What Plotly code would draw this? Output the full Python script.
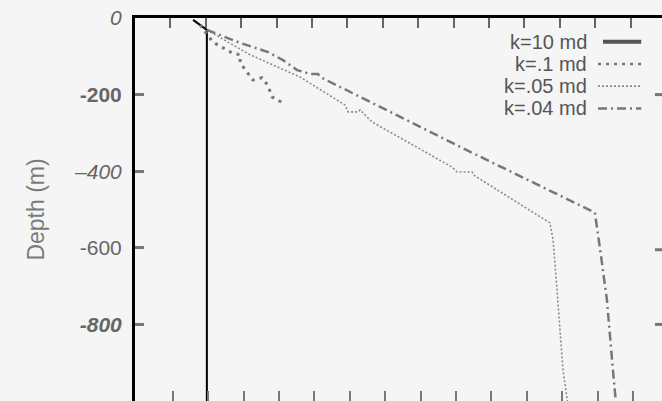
import plotly.graph_objects as go

# ---- data (x in tick units along the top axis, depth in metres) ----
k10_x = [1.64, 2.03, 2.03]
k10_y = [-5, -31, -1010]

k01_x = [1.84, 2.20, 2.74, 2.97, 2.97, 3.33, 3.59, 3.76, 3.87, 4.18]
k01_y = [-18, -63, -91, -96, -117, -162, -156, -177, -206, -222]

k005_x = [2.03, 3.25, 4.66, 5.93, 6.02, 6.30, 6.36, 6.69, 8.95, 9.10, 9.52, 9.60,
          11.72, 11.81, 11.92, 12.09, 12.23]
k005_y = [-31, -96, -154, -227, -245, -245, -240, -271, -389, -402, -402, -412,
          -535, -579, -709, -918, -1010]

k004_x = [2.03, 2.97, 3.76, 4.18, 4.58, 4.94, 5.17, 5.23, 9.46, 12.99, 13.14, 13.33,
          13.50, 13.59]
k004_y = [-31, -65, -89, -110, -136, -146, -146, -154, -349, -508, -605, -735,
          -918, -1010]

series_names = ["k=10 md", "k=.1 md", "k=.05 md", "k=.04 md"]
ytick_vals = [0, -200, -400, -600, -800]
ytick_text = ["<i>0</i>", "<b>-200</b>", "<i>\u2013400</i>", "-600", "<b><i>-800</i></b>"]
xtick_vals = list(range(1, 15))

BG = "#f5f5f5"
fig = go.Figure()

fig.add_trace(go.Scatter(x=k10_x, y=k10_y, mode="lines", name=series_names[0],
                         line=dict(color="black", width=2)))
fig.add_trace(go.Scatter(x=k01_x, y=k01_y, mode="lines", name=series_names[1],
                         line=dict(color="#777777", width=3, dash="3px,5px")))
fig.add_trace(go.Scatter(x=k005_x, y=k005_y, mode="lines", name=series_names[2],
                         line=dict(color="#8a8a8a", width=1.6, dash="2px,2px")))
fig.add_trace(go.Scatter(x=k004_x, y=k004_y, mode="lines", name=series_names[3],
                         line=dict(color="#777777", width=2.5, dash="9px,4px,2px,4px")))
# empty trace to activate the bottom tick axis
fig.add_trace(go.Scatter(x=[], y=[], xaxis="x2", showlegend=False))

XMAX = 527 / 35.4

fig.update_layout(
    width=662, height=401,
    margin=dict(l=135, r=0, t=18, b=0),
    paper_bgcolor=BG, plot_bgcolor=BG,
    showlegend=False,
    font=dict(family="Liberation Sans, Arial, sans-serif", color="#666666"),
    xaxis=dict(range=[0, XMAX], side="top", showline=True, linecolor="black",
               linewidth=3, ticks="inside", ticklen=10, tickwidth=1.5,
               tickcolor="#666666", tickvals=xtick_vals, showticklabels=False,
               showgrid=False, zeroline=False, fixedrange=True),
    xaxis2=dict(range=[-0.07, XMAX - 0.07], overlaying="x", side="bottom",
                showline=False, ticks="inside", ticklen=10, tickwidth=2,
                tickcolor="#777777", tickvals=xtick_vals, showticklabels=False,
                showgrid=False, zeroline=False),
    yaxis=dict(range=[-1000, 0], showline=True, linecolor="black", linewidth=3,
               ticks="inside", ticklen=9, tickwidth=3, tickcolor="#777777",
               tickvals=ytick_vals, ticktext=ytick_text,
               tickfont=dict(size=21, color="#666666"),
               ticklabelstandoff=6,
               showgrid=False, zeroline=False),
)

# axis title
fig.add_annotation(text="Depth (m)", textangle=-90, x=-0.218, y=0.5,
                   xref="paper", yref="paper", showarrow=False,
                   font=dict(size=23, color="#7a7a7a"))

# manual legend (text on the left of the line samples)
leg_y = [-62, -120, -178, -236]
leg_styles = [dict(color="#555555", width=4, dash="solid"),
              dict(color="#777777", width=2.5, dash="3px,5px"),
              dict(color="#8a8a8a", width=1.6, dash="2px,2px"),
              dict(color="#777777", width=2.5, dash="9px,4px,2px,4px")]
leg_x0 = [13.22, 13.08, 13.08, 13.08]
for name, yy, st, x0 in zip(series_names, leg_y, leg_styles, leg_x0):
    fig.add_annotation(text=name, x=12.80, y=yy, xanchor="right", yanchor="middle",
                       showarrow=False, borderpad=0,
                       font=dict(size=20, color="#555555"))
    fig.add_shape(type="line", x0=x0, x1=14.30, y0=yy, y1=yy, line=st)

# small right-edge ticks of the (cropped) right frame
for yy in [-200, -605, -800]:
    fig.add_shape(type="line", x0=XMAX - 0.2, x1=XMAX, y0=yy, y1=yy,
                  line=dict(color="#777777", width=3))

fig.write_html("out.html")
